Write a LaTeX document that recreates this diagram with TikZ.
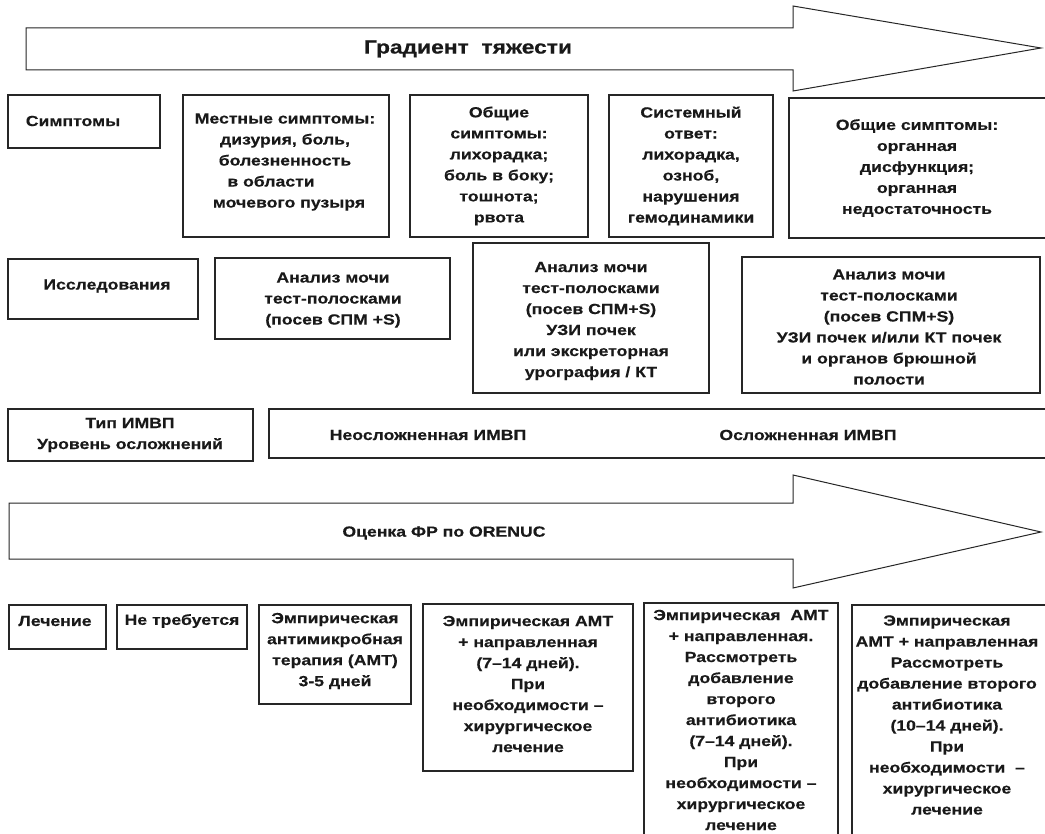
\documentclass[tikz,border=0pt]{standalone}
\usepackage{fontspec}
\setmainfont{Liberation Sans}[FakeStretch=1.2, BoldFeatures={FakeBold=0.4}]
\begin{document}
\begin{tikzpicture}[x=1pt,y=-1pt,
  frame/.style={draw=black!85, line width=1.1pt, inner sep=0pt},
  txt/.style={align=center, inner sep=0pt, font=\fontsize{14.7}{21}\selectfont\bfseries, text=black!90},
  bigarrow/.style={draw=black!85, line width=1pt, fill=white, line join=miter}]
\useasboundingbox (0,0) rectangle (1045,834);
\clip (0,0) rectangle (1045,834);
% arrows
\draw[bigarrow] (26,28) -- (793,28) -- (793,6) -- (1041,48) -- (793,91) -- (793,70) -- (26,70) -- cycle;
\node[txt, font=\fontsize{19}{21}\selectfont\bfseries] (grad) at (468,49) {Градиент\ \ тяжести};
\draw[bigarrow] (9,503) -- (793,503) -- (793,475) -- (1041,532) -- (793,588) -- (793,559) -- (9,559) -- cycle;
\node[txt] (ocenka) at (444,533) {Оценка ФР по ORENUC};
% row 1
\node[frame, minimum width=152, minimum height=53] (s0) at (84,121.5) {};
\node[frame, minimum width=206, minimum height=142] (s1) at (286,166) {};
\node[frame, minimum width=178, minimum height=142] (s2) at (499,166) {};
\node[frame, minimum width=164, minimum height=142] (s3) at (691,166) {};
\node[frame, minimum width=271, minimum height=140] (s4) at (924.5,168) {};
\node[txt] (s0t) at (73,121) {Симптомы};
\node[txt] (s1t) at (285,162) {Местные симптомы:\\дизурия, боль,\\болезненность\\в области\hbox to 28pt{}\\\hbox to 8pt{}мочевого пузыря};
\node[txt] (s2t) at (499,166) {Общие\\симптомы:\\лихорадка;\\боль в боку;\\тошнота;\\рвота};
\node[txt] (s3t) at (691,166) {Системный\\ответ:\\лихорадка,\\озноб,\\нарушения\\гемодинамики};
\node[txt] (s4t) at (917,168) {Общие симптомы:\\органная\\дисфункция;\\органная\\недостаточность};
% row 2
\node[frame, minimum width=190, minimum height=60] (r0) at (103,289) {};
\node[frame, minimum width=235, minimum height=81] (r1) at (332.5,298.5) {};
\node[frame, minimum width=236, minimum height=150] (r2) at (591,318) {};
\node[frame, minimum width=298, minimum height=136] (r3) at (891,325) {};
\node[txt] (r0t) at (107,286) {Исследования};
\node[txt] (r1t) at (333,300) {Анализ мочи\\тест-полосками\\(посев СПМ +S)};
\node[txt] (r2t) at (591,321) {Анализ мочи\\тест-полосками\\(посев СПМ+S)\\УЗИ почек\\или экскреторная\\урография / КТ};
\node[txt] (r3t) at (889,327) {Анализ мочи\\тест-полосками\\(посев СПМ+S)\\УЗИ почек и/или КТ почек\\и органов брюшной\\полости};
% row 3
\node[frame, minimum width=245, minimum height=52] (t0) at (130.5,435) {};
\node[frame, minimum width=791, minimum height=49] (t1) at (664.5,433.5) {};
\node[txt] (t0t) at (130,435) {Тип ИМВП\\Уровень осложнений};
\node[txt] (t1a) at (428,435) {Неосложненная ИМВП};
\node[txt] (t1b) at (808,435) {Осложненная ИМВП};
% row 4
\node[frame, minimum width=97, minimum height=44] (l0) at (57.5,627) {};
\node[frame, minimum width=130, minimum height=44] (l1) at (182,627) {};
\node[frame, minimum width=152, minimum height=99] (l2) at (335,654.5) {};
\node[frame, minimum width=210, minimum height=167] (l3) at (528,687.5) {};
\node[frame, minimum width=194, minimum height=257] (l4) at (741,731.5) {};
\node[frame, minimum width=208, minimum height=255] (l5) at (956,732.5) {};
\node[txt] (l0t) at (55,621) {Лечение};
\node[txt] (l1t) at (182,621) {Не требуется};
\node[txt] (l2t) at (335,651) {Эмпирическая\\антимикробная\\терапия (АМТ)\\3-5 дней};
\node[txt] (l3t) at (528,684) {Эмпирическая АМТ\\+ направленная\\(7–14 дней).\\При\\необходимости –\\хирургическое\\лечение};
\node[txt] (l4t) at (741,720) {Эмпирическая\ \ АМТ\\+ направленная.\\Рассмотреть\\добавление\\второго\\антибиотика\\(7–14 дней).\\При\\необходимости –\\хирургическое\\лечение};
\node[txt] (l5t) at (947,715) {Эмпирическая\\АМТ + направленная\\Рассмотреть\\добавление второго\\антибиотика\\(10–14 дней).\\При\\необходимости\ \ –\\хирургическое\\лечение};
\end{tikzpicture}
\end{document}
